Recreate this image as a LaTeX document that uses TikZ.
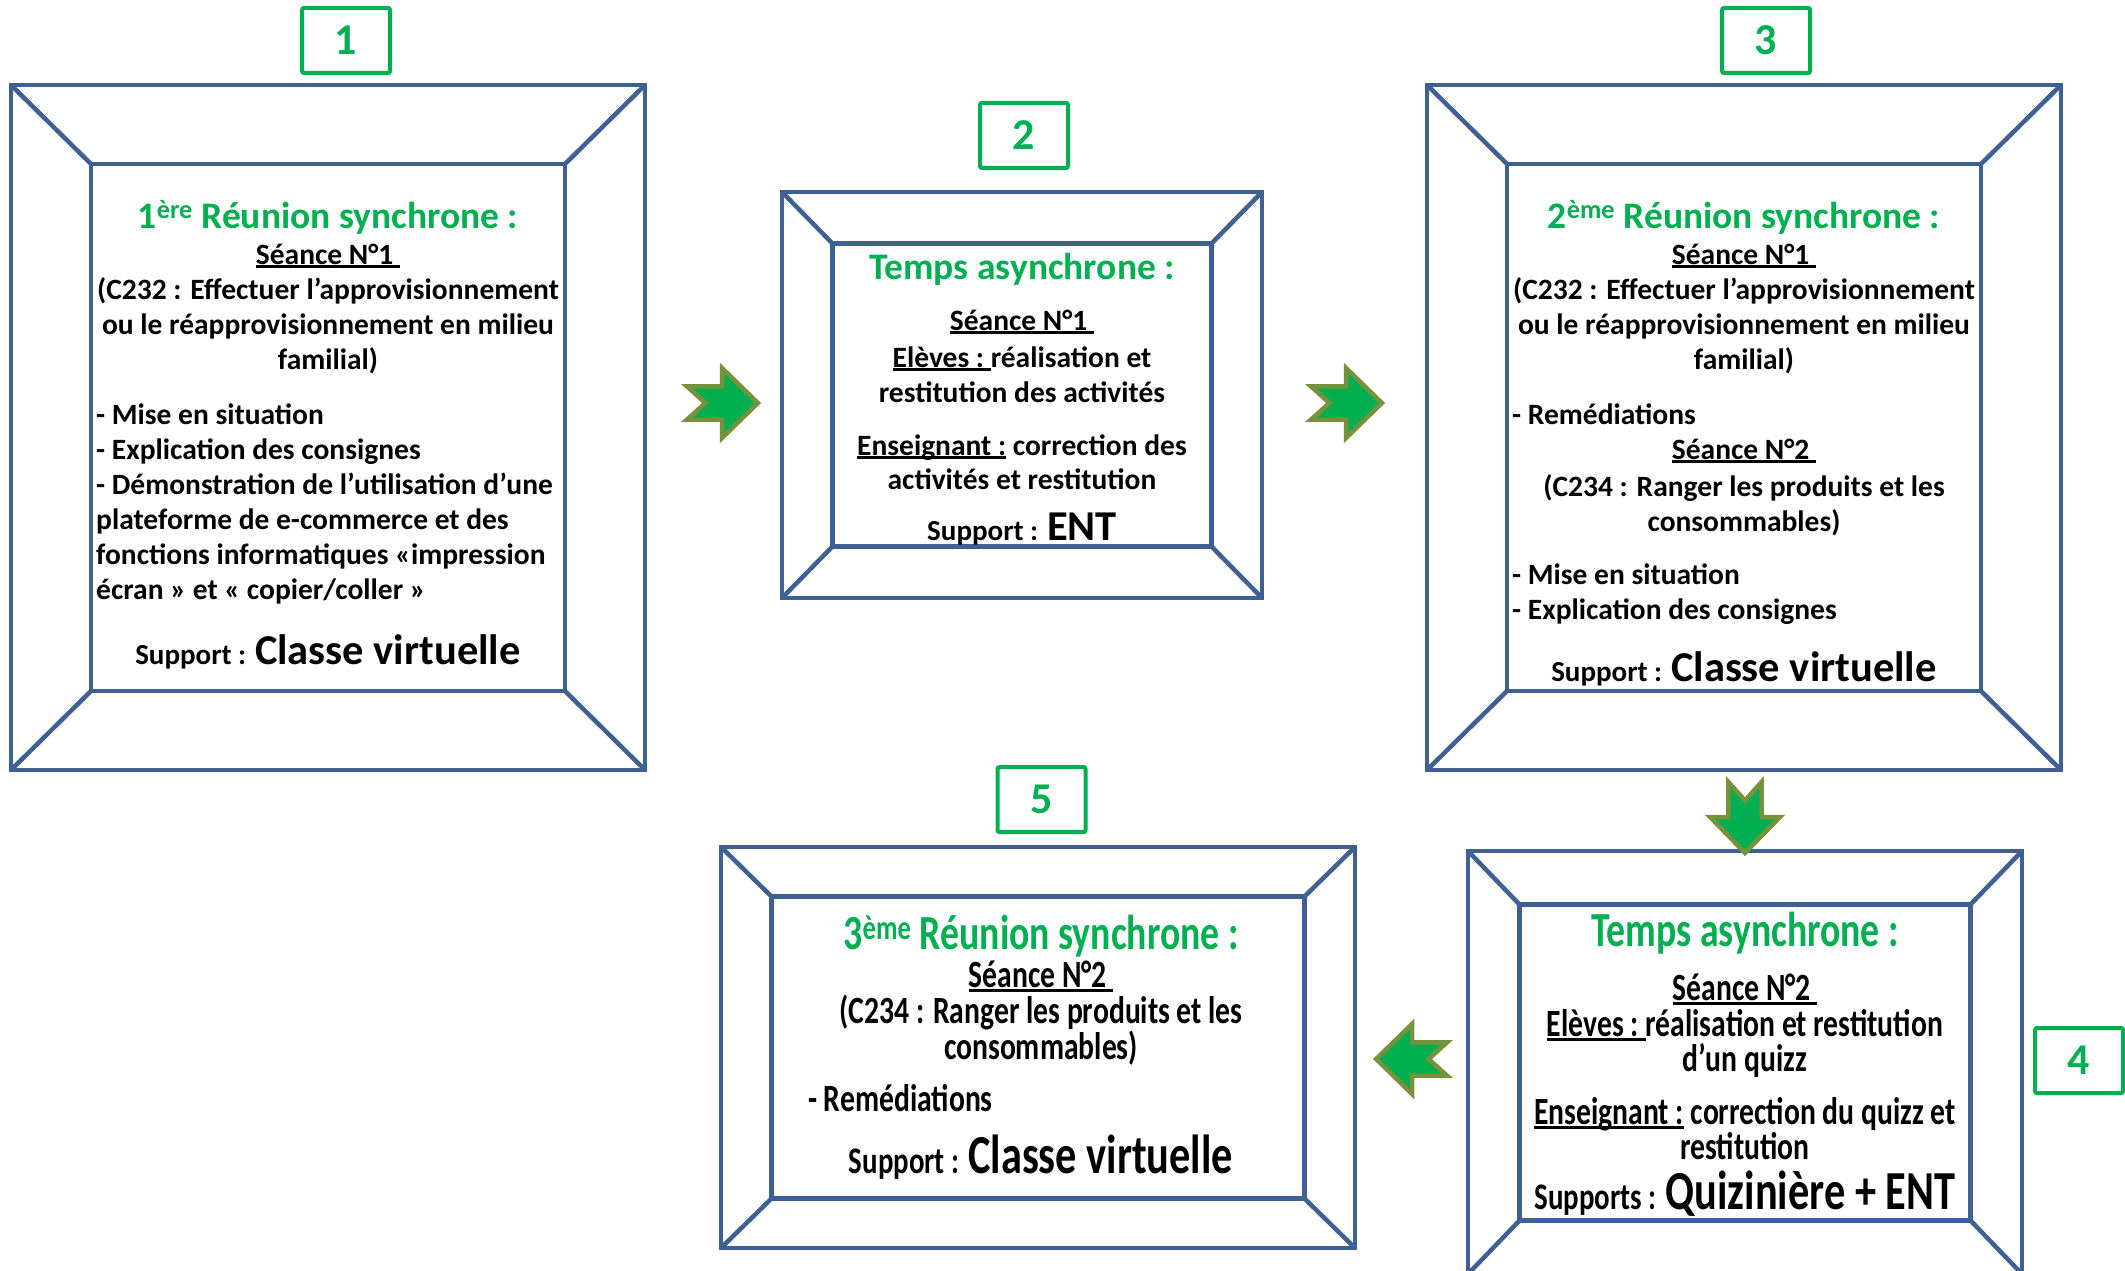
\documentclass[tikz,border=0pt]{standalone}
\usepackage{fontspec}
\setmainfont{Carlito}
\newfontfamily\tallfont{Carlito}[FakeStretch=0.77]
\usetikzlibrary{calc}
\definecolor{frameblue}{RGB}{62,96,146}
\definecolor{offgreen}{RGB}{0,176,80}
\definecolor{olivegreen}{RGB}{118,146,60}
\newsavebox\ulbox
\newcommand\uln[1]{\sbox\ulbox{#1}\rlap{\rule[-0.12em]{\wd\ulbox}{0.07em}}\usebox\ulbox}
\newcommand\supsz{\fontsize{29}{33}\selectfont}
\newcommand\bigsz{\fontsize{42.5}{46}\selectfont}
\newcommand\tsupsz{\fontsize{37.5}{41}\selectfont}
\newcommand\tbigsz{\fontsize{55}{58}\selectfont}
\tikzset{
  frameline/.style={draw=frameblue, line width=4.5pt, line join=miter},
  framebox/.style={frameline, inner sep=0pt, outer sep=0pt},
  numbox/.style={draw=offgreen, line width=4pt, rounded corners=2pt, minimum width=88pt, minimum height=65pt,
    text=offgreen, font=\bfseries\fontsize{44}{46}\selectfont, inner sep=0pt},
  body/.style={font=\bfseries\fontsize{29.5}{34}\selectfont, inner sep=0pt, anchor=base},
  lbody/.style={body, anchor=base west},
  title/.style={font=\bfseries\fontsize{37.5}{40}\selectfont, text=offgreen, inner sep=0pt, anchor=base},
  tbody/.style={font=\tallfont\bfseries\fontsize{38.5}{42}\selectfont, inner sep=0pt, anchor=base},
  tlbody/.style={tbody, anchor=base west},
  ttitle/.style={font=\tallfont\bfseries\fontsize{49}{52}\selectfont, text=offgreen, inner sep=0pt, anchor=base},
  blockarrow/.style={fill=offgreen, draw=olivegreen, line width=4.5pt, line join=miter}
}
\newcommand\notcharrow[2]{%
  \draw[blockarrow, shift={(#1)}, rotate=#2, scale=0.92] (-38,-18) -- (0,-18) -- (0,-38) -- (39,0) -- (0,38) -- (0,18) -- (-38,18) -- (-18,0) -- cycle;}
\begin{document}
\begin{tikzpicture}[x=1pt,y=-1pt]
\useasboundingbox (0,0) rectangle (2125,1271);

% ---------- frames ----------
\foreach \n/\cx/\cy/\ow/\oh/\iw/\ih in {
  b1/328/427.5/634/685/474/527,
  b2/1022/395/480/406/379/303,
  b3/1744/427.5/634/685/474/527,
  b4/1745/1062.5/554/423/451/316,
  b5/1038/1047.5/634/401/533/302}{
  \node[framebox, minimum width=\ow pt, minimum height=\oh pt] (\n o) at (\cx,\cy) {};
  \node[framebox, minimum width=\iw pt, minimum height=\ih pt] (\n i) at (\cx,\cy) {};
  \draw[frameline] (\n o.north west) -- (\n i.north west);
  \draw[frameline] (\n o.north east) -- (\n i.north east);
  \draw[frameline] (\n o.south west) -- (\n i.south west);
  \draw[frameline] (\n o.south east) -- (\n i.south east);
}

% ---------- number labels ----------
\node[numbox] (n1) at (346,40.5) {1};
\node[numbox] (n2) at (1024,135.5) {2};
\node[numbox] (n3) at (1766,40.5) {3};
\node[numbox] (n4) at (2079,1060.5) {4};
\node[numbox] (n5) at (1041.5,799.5) {5};

% ---------- arrows ----------
\coordinate (a1) at (722,403);
\coordinate (a2) at (1346,403);
\coordinate (a3) at (1745,817);
\coordinate (a4) at (1412,1059);
\notcharrow{a1}{0}
\notcharrow{a2}{0}
\notcharrow{a3}{-90}
\notcharrow{a4}{180}

% ---------- box 1 ----------
\node[title] (t1) at (328,228) {1\textsuperscript{ère} Réunion synchrone :};
\node[body] (t1a) at (328,264) {\uln{Séance N°1\ }};
\node[body] (t1b) at (328,299) {(C232 : Effectuer l’approvisionnement};
\node[body] (t1c) at (328,334) {ou le réapprovisionnement en milieu};
\node[body] (t1d) at (328,369) {familial)};
\node[lbody] (t1e) at (96,424) {- Mise en situation};
\node[lbody] (t1f) at (96,459) {- Explication des consignes};
\node[lbody] (t1g) at (96,494) {- Démonstration de l’utilisation d’une};
\node[lbody] (t1h) at (96,529) {plateforme de e-commerce et des};
\node[lbody] (t1i) at (96,564) {fonctions informatiques «impression};
\node[lbody] (t1j) at (96,599) {écran » et « copier/coller »};
\node[body] (t1k) at (328,664) {{\supsz Support :} {\bigsz Classe virtuelle}};

% ---------- box 2 ----------
\node[title] (t2) at (1022,279) {Temps asynchrone :};
\node[body] (t2a) at (1022,330) {\uln{Séance N°1\ }};
\node[body] (t2b) at (1022,367) {\uln{Elèves :\ }réalisation et};
\node[body] (t2c) at (1022,402) {restitution des activités};
\node[body] (t2d) at (1022,455) {\uln{Enseignant :} correction des};
\node[body] (t2e) at (1022,489) {activités et restitution};
\node[body] (t2f) at (1022,540) {{\supsz Support :} {\bigsz ENT}};

% ---------- box 3 ----------
\node[title] (t3) at (1744,228) {2\textsuperscript{ème} Réunion synchrone :};
\node[body] (t3a) at (1744,264) {\uln{Séance N°1\ }};
\node[body] (t3b) at (1744,299) {(C232 : Effectuer l’approvisionnement};
\node[body] (t3c) at (1744,334) {ou le réapprovisionnement en milieu};
\node[body] (t3d) at (1744,369) {familial)};
\node[lbody] (t3e) at (1512,424) {- Remédiations};
\node[body] (t3f) at (1744,459) {\uln{Séance N°2\ }};
\node[body] (t3g) at (1744,496) {(C234 : Ranger les produits et les};
\node[body] (t3h) at (1744,531) {consommables)};
\node[lbody] (t3i) at (1512,584) {- Mise en situation};
\node[lbody] (t3j) at (1512,619) {- Explication des consignes};
\node[body] (t3k) at (1744,681) {{\supsz Support :} {\bigsz Classe virtuelle}};

% ---------- box 4 ----------
\node[ttitle] (t4) at (1745,946) {Temps asynchrone :};
\node[tbody] (t4a) at (1745,1000) {\uln{Séance N°2\ }};
\node[tbody] (t4b) at (1745,1036) {\uln{Elèves :\ }réalisation et restitution};
\node[tbody] (t4c) at (1745,1071) {d’un quizz};
\node[tbody] (t4d) at (1745,1124) {\uln{Enseignant :} correction du quizz et};
\node[tbody] (t4e) at (1745,1159) {restitution};
\node[tbody] (t4f) at (1745,1209) {{\tsupsz Supports :} {\tbigsz Quizinière + ENT}};

% ---------- box 5 ----------
\node[ttitle] (t5) at (1041,949) {3\textsuperscript{ème} Réunion synchrone :};
\node[tbody] (t5a) at (1041,987) {\uln{Séance N°2\ }};
\node[tbody] (t5b) at (1041,1023) {(C234 : Ranger les produits et les};
\node[tbody] (t5c) at (1041,1059) {consommables)};
\node[tlbody] (t5d) at (808,1111) {- Remédiations};
\node[tbody] (t5e) at (1041,1173) {{\tsupsz Support :} {\tbigsz Classe virtuelle}};
\end{tikzpicture}
\end{document}
